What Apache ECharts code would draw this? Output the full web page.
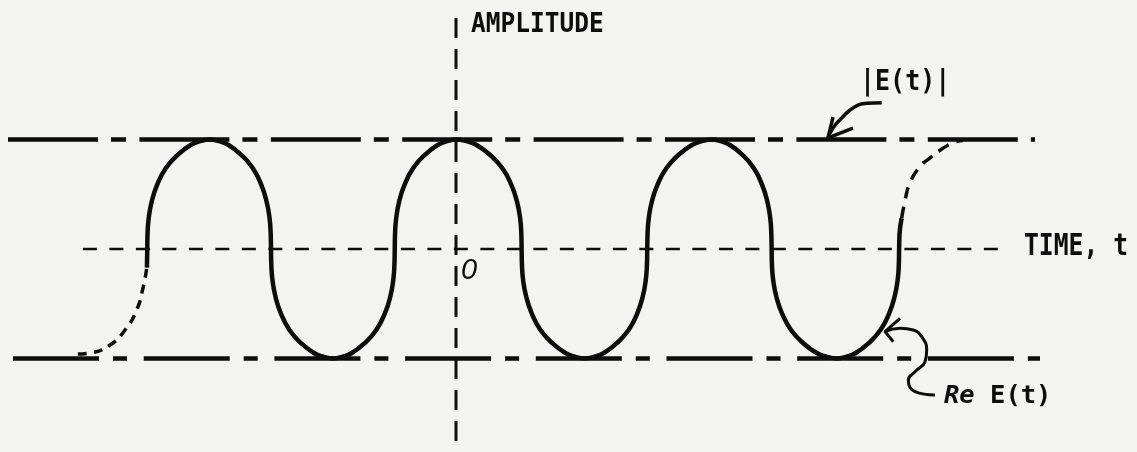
<!DOCTYPE html>
<html><head><meta charset="utf-8">
<script src="https://cdn.jsdelivr.net/npm/echarts@6/dist/echarts.min.js"></script>
<style>html,body{margin:0;padding:0;background:#f3f3f1}#c{width:1137px;height:452px}</style>
</head><body><div id="c"></div><script>
// time in quarter-periods (0 at the amplitude axis), amplitude normalised to |E(t)| = 1
const waveT = [-4.945,
  -4.94,-4.935,-4.917,-4.869,-4.782,-4.644,-4.444,-4.246,-4.09,-3.94,-3.793,-3.64,-3.446,-3.25,-3.115,-3.03,-2.983,-2.965,-2.96,
  -2.955,-2.937,-2.89,-2.804,-2.667,-2.469,-2.273,-2.118,-1.97,-1.822,-1.667,-1.471,-1.273,-1.136,-1.05,-1.003,-0.985,-0.98,
  -0.975,-0.957,-0.91,-0.824,-0.687,-0.489,-0.293,-0.138,0.01,0.166,0.328,0.534,0.742,0.886,0.976,1.026,1.045,1.05,
  1.055,1.073,1.122,1.21,1.349,1.551,1.751,1.909,2.06,2.21,2.366,2.564,2.764,2.902,2.989,3.037,3.055,3.06,
  3.065,3.084,3.133,3.223,3.365,3.571,3.775,3.936,4.09,4.234,4.384,4.574,4.766,4.898,4.982,5.028,5.045,5.05,
  5.055,5.074,5.124,5.214,5.358,5.566,5.772,5.934,6.09,6.24,6.396,6.594,6.794,6.932,7.019,7.067,7.085,7.09,
  7.097,7.13];
const waveA = [-0.17,
  0,0.14,0.28,0.432,0.585,0.737,0.865,0.95,0.985,1,0.985,0.95,0.865,0.737,0.585,0.432,0.28,0.14,0,
  -0.14,-0.28,-0.432,-0.585,-0.737,-0.865,-0.95,-0.985,-1,-0.985,-0.95,-0.865,-0.737,-0.585,-0.432,-0.28,-0.14,0,
  0.14,0.28,0.432,0.585,0.737,0.865,0.95,0.985,1,0.985,0.95,0.865,0.737,0.585,0.432,0.28,0.14,0,
  -0.14,-0.28,-0.432,-0.585,-0.737,-0.865,-0.95,-0.985,-1,-0.985,-0.95,-0.865,-0.737,-0.585,-0.432,-0.28,-0.14,0,
  0.14,0.28,0.432,0.585,0.737,0.865,0.95,0.985,1,0.985,0.95,0.865,0.737,0.585,0.432,0.28,0.14,0,
  -0.14,-0.28,-0.432,-0.585,-0.737,-0.865,-0.95,-0.985,-1,-0.985,-0.95,-0.865,-0.737,-0.585,-0.432,-0.28,-0.14,0,
  0.14,0.28];
const leadInT = [-6.05,-5.856,-5.536,-5.296,-5.109,-5.003,-4.949];
const leadInA = [-0.96,-0.95,-0.877,-0.74,-0.557,-0.344,-0.176];
const leadOutT = [7.13,7.18,7.26,7.42,7.58,7.74,7.95,8.11];
const leadOutA = [0.28,0.43,0.60,0.75,0.83,0.90,0.97,0.99];
const envelopeLevels = [1, -1];
const envelopeTopSpan = [-7.168, 9.264];
const envelopeBottomSpan = [-7.088, 9.344];
const timeAxisSpan = [-5.97, 8.75];
const ampAxisSpan = [-1.9, 2.11];
const absArrowT = [6.811,6.571,6.352,6.171,6.032,5.952];
const absArrowA = [1.336,1.331,1.288,1.196,1.105,1.014];
const absHeadT = [6.032,5.952,6.352];
const absHeadA = [1.205,1.014,1.105];
const reArrowT = [7.664,7.344,7.237,7.344,7.504,7.531,7.451,7.317,7.104,6.864];
const reArrowA = [-1.333,-1.303,-1.196,-1.121,-1.029,-0.922,-0.801,-0.740,-0.724,-0.755];
const reHeadT = [7.104,6.864,6.997];
const reHeadA = [-0.633,-0.755,-0.847];
const labels = { amp: 'AMPLITUDE', time: 'TIME, t', abs: '|E(t)|', re: 'E(t)', reItalic: 'Re', origin: '0' };

const pairs = (t, a) => t.map((v, i) => [v, a[i]]);
const INK = '#0d0d0d';
const chart = echarts.init(document.getElementById('c'), null, { renderer: 'canvas' });
const line = (data, width, type, extra) => Object.assign({
  type: 'line', data, showSymbol: false, silent: true, clip: false, animation: false,
  lineStyle: { color: INK, width, type, cap: 'butt' }
}, extra || {});
const MONO = '"DejaVu Sans Mono", "Liberation Mono", monospace';
chart.setOption({
  backgroundColor: '#f3f3f1',
  animation: false,
  grid: { left: 0, right: 0, top: 0, bottom: 0 },
  xAxis: { type: 'value', min: -7.296, max: 10.896, show: false },
  yAxis: { type: 'value', min: -1.854, max: 2.274, show: false },
  series: [
    line([[envelopeTopSpan[0], envelopeLevels[0]], [envelopeTopSpan[1], envelopeLevels[0]]], 4.5, [90, 13, 15, 13.4]),
    line([[envelopeBottomSpan[0], envelopeLevels[1]], [envelopeBottomSpan[1], envelopeLevels[1]]], 4.5, [86, 14, 14, 16.7]),
    line([[timeAxisSpan[0], 0], [timeAxisSpan[1], 0]], 2.6, [14, 12.5]),
    line([[0, ampAxisSpan[1]], [0, ampAxisSpan[0]]], 3, [20, 11]),
    line(pairs(waveT, waveA), 4.5, 'solid', { smooth: 0.5 }),
    line(pairs(leadInT, leadInA), 3.5, [9, 7], { smooth: 0.5 }),
    line(pairs(leadOutT, leadOutA), 3.5, [12, 8], { smooth: 0.5 }),
    line(pairs(absArrowT, absArrowA), 3.5, 'solid', { smooth: 0.5 }),
    line(pairs(absHeadT, absHeadA), 3.5, 'solid'),
    line(pairs(reArrowT, reArrowA), 3, 'solid', { smooth: 0.5 }),
    line(pairs(reHeadT, reHeadA), 3, 'solid')
  ],
  graphic: [
    { type: 'text', x: 471, y: 25, scaleY: 1.12, silent: true,
      style: { text: labels.amp, fontFamily: MONO, fontWeight: 'bold', fontSize: 24.5, fill: INK, align: 'left', verticalAlign: 'middle' } },
    { type: 'text', x: 1024, y: 247, scaleY: 1.2, silent: true,
      style: { text: labels.time, fontFamily: MONO, fontWeight: 'bold', fontSize: 24.7, fill: INK, align: 'left', verticalAlign: 'middle' } },
    { type: 'text', x: 860, y: 83, scaleY: 1.1, silent: true,
      style: { text: labels.abs, fontFamily: MONO, fontWeight: 'bold', fontSize: 25, fill: INK, align: 'left', verticalAlign: 'middle' } },
    { type: 'text', x: 944, y: 396, silent: true,
      style: { text: '{i|' + labels.reItalic + '} ' + labels.re, fontFamily: MONO, fontWeight: 'bold', fontSize: 25.5, fill: INK, align: 'left', verticalAlign: 'middle',
        rich: { i: { fontFamily: MONO, fontWeight: 'bold', fontStyle: 'italic', fontSize: 25.5, fill: INK } } } },
    { type: 'text', x: 461, y: 271, silent: true,
      style: { text: labels.origin, fontFamily: '"Liberation Sans", "DejaVu Sans", sans-serif', fontStyle: 'italic', fontWeight: 'normal', fontSize: 29, fill: INK, align: 'left', verticalAlign: 'middle' } }
  ]
});
</script></body></html>
